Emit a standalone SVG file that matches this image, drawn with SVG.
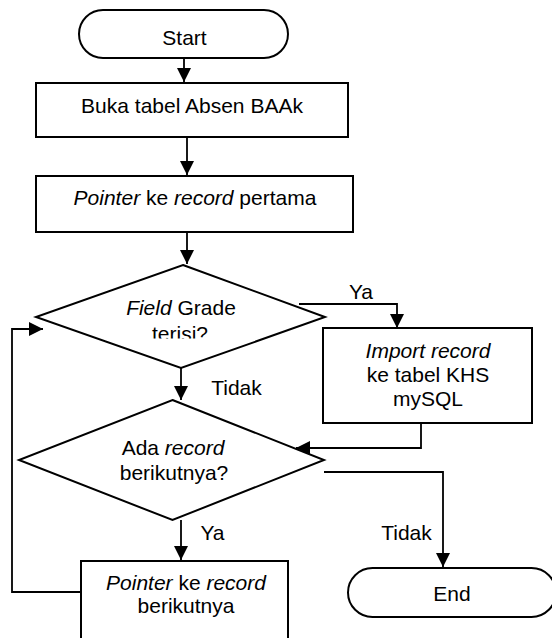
<svg xmlns="http://www.w3.org/2000/svg" width="552" height="638" viewBox="0 0 552 638">
  <style>
    .shape { fill: #ffffff; stroke: #000000; stroke-width: 2; }
    .edge { fill: none; stroke: #000000; stroke-width: 1.8; marker-end: url(#arrow); }
    .plain { fill: none; stroke: #000000; stroke-width: 1.8; }
    text { font-family: "Liberation Sans", Arial, sans-serif; font-size: 21px; fill: #000000; text-anchor: middle; }
    .it { font-style: italic; }
  </style>
  <defs>
    <marker id="arrow" markerUnits="userSpaceOnUse" markerWidth="14" markerHeight="14" refX="14" refY="7" orient="auto">
      <path d="M0,0 L14,7 L0,14 Z" fill="#000000"/>
    </marker>
    <clipPath id="clipDecision1">
      <rect x="0" y="0" width="552" height="338.5"/>
    </clipPath>
  </defs>

  <!-- connectors -->
  <g id="connectors">
    <path class="edge" d="M184,58 V82"/>
    <path class="edge" d="M187,137 V175"/>
    <path class="edge" d="M187,232 V264"/>
    <path class="edge" d="M299,304 H397 V328"/>
    <path class="edge" d="M421,423 V448 H296"/>
    <path class="edge" d="M181,368 V400"/>
    <path class="edge" d="M324,472 H443 V567"/>
    <path class="edge" d="M181,520 V560"/>
    <path class="edge" d="M81,592 H12 V329 H43"/>
    <text x="361" y="299">Ya</text>
    <text x="236.5" y="395">Tidak</text>
    <text x="212.5" y="540">Ya</text>
    <text x="406.5" y="540">Tidak</text>
  </g>

  <g id="start">
    <rect class="shape" x="79" y="10" width="209" height="48" rx="24" ry="24"/>
    <text x="184.5" y="45">Start</text>
  </g>

  <g id="open-table">
    <rect class="shape" x="36" y="83" width="312" height="54"/>
    <text x="192" y="113">Buka tabel Absen BAAk</text>
  </g>

  <g id="first-record">
    <rect class="shape" x="36" y="176" width="317" height="56"/>
    <text x="195" y="205"><tspan class="it">Pointer</tspan> ke <tspan class="it">record</tspan> pertama</text>
  </g>

  <g id="grade-filled">
    <polygon class="shape" points="183,265 325,317 181,368 36,317"/>
    <text x="181" y="315"><tspan class="it">Field</tspan> Grade</text>
    <text x="180" y="341" clip-path="url(#clipDecision1)">terisi?</text>
  </g>

  <g id="import-record">
    <rect class="shape" x="323" y="328" width="209" height="95"/>
    <text x="428" y="358" class="it">Import record</text>
    <text x="428" y="382">ke tabel KHS</text>
    <text x="428" y="406">mySQL</text>
  </g>

  <g id="next-exists">
    <polygon class="shape" points="172.5,400 324,460 172.5,520 19,460"/>
    <text x="173" y="455">Ada <tspan class="it">record</tspan></text>
    <text x="174" y="480">berikutnya?</text>
  </g>

  <g id="next-record">
    <rect class="shape" x="81" y="561" width="207" height="90"/>
    <text x="186" y="590"><tspan class="it">Pointer</tspan> ke <tspan class="it">record</tspan></text>
    <text x="186" y="613">berikutnya</text>
  </g>

  <g id="end">
    <rect class="shape" x="348" y="568" width="208" height="49" rx="24.5" ry="24.5"/>
    <text x="452" y="601">End</text>
  </g>
</svg>
